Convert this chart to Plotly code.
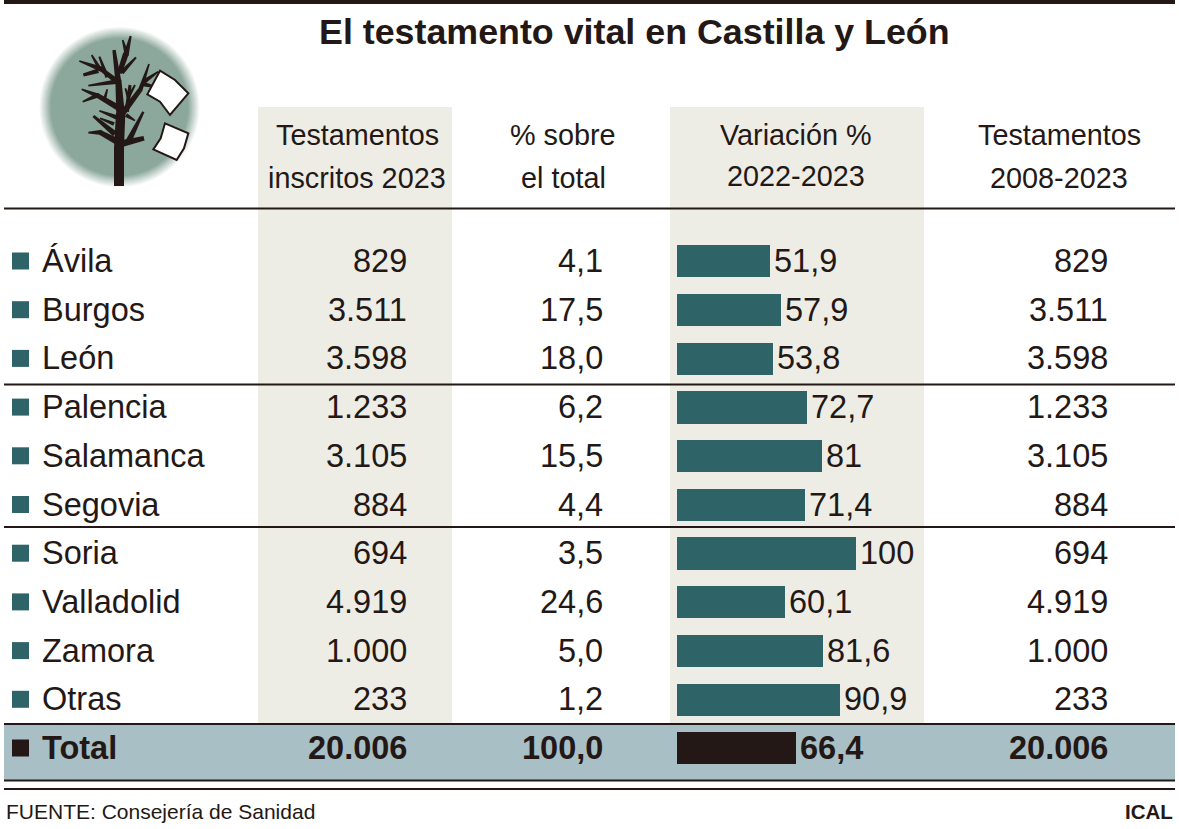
import plotly.graph_objects as go

# ---------- data ----------
provinces = ["Ávila", "Burgos", "León", "Palencia", "Salamanca", "Segovia",
             "Soria", "Valladolid", "Zamora", "Otras", "Total"]
inscritos = ["829", "3.511", "3.598", "1.233", "3.105", "884", "694", "4.919", "1.000", "233", "20.006"]
pct_total = ["4,1", "17,5", "18,0", "6,2", "15,5", "4,4", "3,5", "24,6", "5,0", "1,2", "100,0"]
variacion = [51.9, 57.9, 53.8, 72.7, 81, 71.4, 100, 60.1, 81.6, 90.9, 66.4]
variacion_txt = ["51,9", "57,9", "53,8", "72,7", "81", "71,4", "100", "60,1", "81,6", "90,9", "66,4"]
acumulado = ["829", "3.511", "3.598", "1.233", "3.105", "884", "694", "4.919", "1.000", "233", "20.006"]

W, H = 1179, 829
INK = "#231815"
TEAL = "#2e6468"
PANEL = "#edede6"
BAND = "#a9bfc6"
FONT = "Liberation Sans"
SIZE = 32.5


def px(x):
    return x / W


def py(y):
    return 1 - y / H


shapes = []
annotations = []


def rect(x0, y0, x1, y1, color):
    shapes.append(dict(type="rect", xref="paper", yref="paper", x0=px(x0), x1=px(x1),
                       y0=py(y1), y1=py(y0), fillcolor=color, line_width=0, layer="below"))


def hline(y, t, x0=4, x1=1175):
    rect(x0, y - t / 2, x1, y + t / 2, INK)


def poly(points, fill, lw=0, lc=INK):
    d = "M " + " L ".join(f"{px(x)},{py(y)}" for x, y in points) + " Z"
    shapes.append(dict(type="path", xref="paper", yref="paper", path=d, fillcolor=fill,
                       line=dict(width=lw, color=lc), layer="below"))


def lerp_color(a, b, t):
    return "rgb(" + ",".join(str(round(a[i] + (b[i] - a[i]) * t)) for i in range(3)) + ")"


def label(x, y, text, anchor="center", size=SIZE, bold=False, color=INK):
    annotations.append(dict(xref="paper", yref="paper", x=px(x), y=py(y), text=f"<b>{text}</b>" if bold else text,
                            showarrow=False, xanchor=anchor, yanchor="middle",
                            font=dict(family=FONT, size=size, color=color), borderpad=0, borderwidth=0))


# ---------- backgrounds and rules ----------
rect(258, 107, 452, 723, PANEL)
rect(670, 107, 924, 723, PANEL)
rect(4, 724, 1175, 780, BAND)
hline(2, 4)
hline(208.5, 2)
hline(384.5, 2)
hline(527, 2)
hline(724, 2)
hline(780.5, 2)
hline(789, 2)

# ---------- logo ----------
cx, cy = 119.5, 107
edge, core = (255, 255, 255), (140, 168, 156)
for i in range(12):
    r = 80 - i * 1
    t = (i + 1) / 12
    shapes.append(dict(type="circle", xref="paper", yref="paper", x0=px(cx - r), x1=px(cx + r),
                       y0=py(cy + r), y1=py(cy - r), fillcolor=lerp_color(edge, core, t),
                       line_width=0, layer="below"))

branches = [
    (357, 558, 30, 357, 440, 30), (357, 445, 30, 362, 340, 28), (362, 345, 26, 355, 240, 18),
    (355, 245, 18, 342, 150, 10), (358, 220, 14, 378, 160, 18), (378, 165, 16, 392, 108, 6),
    (378, 155, 12, 368, 120, 5), (365, 218, 14, 408, 172, 6),
    (352, 245, 16, 300, 205, 12), (305, 208, 16, 238, 183, 5), (300, 208, 12, 275, 165, 5),
    (322, 232, 12, 298, 170, 6), (295, 212, 14, 250, 225, 10),
    (368, 340, 18, 420, 270, 14), (420, 272, 14, 447, 192, 5), (432, 245, 14, 475, 215, 5),
    (430, 252, 14, 470, 262, 5),
    (380, 335, 14, 390, 255, 9), (385, 292, 10, 376, 265, 5), (385, 292, 10, 405, 255, 5),
    (358, 325, 18, 290, 285, 14), (295, 288, 14, 245, 268, 5), (295, 285, 14, 248, 305, 5),
    (312, 302, 11, 322, 268, 5), (350, 245, 14, 265, 257, 5),
    (352, 425, 20, 300, 397, 15), (305, 397, 16, 265, 398, 5), (345, 402, 18, 280, 348, 8),
    (350, 352, 14, 298, 332, 5), (342, 372, 12, 300, 355, 5),
    (370, 430, 20, 432, 415, 14), (385, 425, 18, 430, 335, 7), (378, 345, 13, 405, 362, 5),
]
for x0, y0, w0, x1, y1, w1 in branches:
    dx, dy = x1 - x0, y1 - y0
    n = (dx * dx + dy * dy) ** 0.5
    ux, uy = -dy / n / 2, dx / n / 2
    poly([((x0 + ux * w0) / 3, (y0 + uy * w0) / 3), ((x1 + ux * w1) / 3, (y1 + uy * w1) / 3),
          ((x1 - ux * w1) / 3, (y1 - uy * w1) / 3), ((x0 - ux * w0) / 3, (y0 - uy * w0) / 3)], INK)
for sheet in ([(480, 212), (525, 240), (565, 280), (510, 345), (480, 305), (442, 283)],
              [(495, 370), (565, 400), (552, 445), (530, 480), (460, 448), (482, 415)]):
    poly([(x / 3, y / 3) for x, y in sheet], "#ffffff", 2)

# ---------- titles and headers ----------
label(634, 32, "El testamento vital en Castilla y León", size=35.8, bold=True)
for x, y, t in [(357, 135, "Testamentos"), (357, 178, "inscritos 2023"),
                (563, 135, "% sobre"), (563, 178, "el total"),
                (796, 135, "Variación %"), (796, 176, "2022-2023"),
                (1059, 135, "Testamentos"), (1059, 178, "2008-2023")]:
    label(x, y, t, size=28.8)
label(6, 811, "FUENTE: Consejería de Sanidad", "left", size=21)
label(1173, 811, "ICAL", "right", size=20.5, bold=True)

# ---------- rows ----------
for i, p in enumerate(provinces):
    b = p == "Total"
    for x, vals, anchor in [(40, provinces, "left"), (409, inscritos, "right"),
                            (605, pct_total, "right"), (1110, acumulado, "right")]:
        t = vals[i]
        annotations.append(dict(xref="paper", yref="y", x=px(x), y=p, text=f"<b>{t}</b>" if b else t,
                                showarrow=False, xanchor=anchor, yanchor="middle",
                                font=dict(family=FONT, size=SIZE, color=INK)))
    annotations.append(dict(xref="x", yref="y", x=variacion[i], y=p, xshift=2,
                            text=f"<b>{variacion_txt[i]}</b>" if b else variacion_txt[i],
                            showarrow=False, xanchor="left", yanchor="middle",
                            font=dict(family=FONT, size=SIZE, color=INK)))

fig = go.Figure()
fig.add_trace(go.Bar(y=provinces, x=variacion, orientation="h", width=0.66,
                     marker=dict(color=[INK if p == "Total" else TEAL for p in provinces], line_width=0),
                     hoverinfo="skip", showlegend=False))
fig.add_trace(go.Scatter(y=provinces, x=[20.5] * len(provinces), xaxis="x2", mode="markers",
                         marker=dict(symbol="square", size=17,
                                     color=[INK if p == "Total" else TEAL for p in provinces], line_width=0),
                         hoverinfo="skip", showlegend=False))

SCALE = 1.79  # pixels per percentage point
fig.update_layout(
    width=W, height=H, margin=dict(l=0, r=0, t=0, b=0), paper_bgcolor="#ffffff", plot_bgcolor="rgba(0,0,0,0)",
    xaxis=dict(domain=[0, 1], range=[-677 / SCALE, (W - 677) / SCALE], visible=False, fixedrange=True),
    xaxis2=dict(domain=[0, 1], range=[0, W], overlaying="x", visible=False, fixedrange=True),
    yaxis=dict(domain=[py(772.35), py(236.65)], categoryorder="array", categoryarray=provinces,
               range=[10.5, -0.5], visible=False, fixedrange=True),
    shapes=shapes, annotations=annotations, bargap=0,
)
fig.write_html("out.html", config=dict(displayModeBar=False),
               post_script="document.body.style.margin='0';")
